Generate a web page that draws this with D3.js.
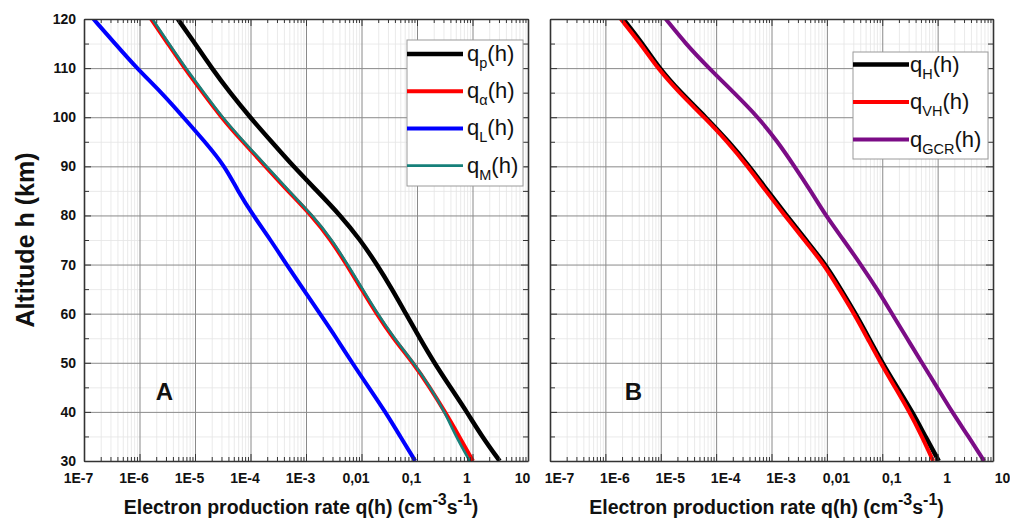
<!DOCTYPE html>
<html>
<head>
<meta charset="utf-8">
<script src="https://cdnjs.cloudflare.com/ajax/libs/d3/7.8.5/d3.min.js"></script>
<style>
  html, body { margin: 0; padding: 0; background: #fff; }
  svg { display: block; font-family: "Liberation Sans", Arial, sans-serif; }
</style>
</head>
<body>
<svg id="chart" width="1010" height="525"></svg>
<script>
// ---------------- data ----------------
const altitudes = [120, 115, 110, 105, 100, 95, 90, 85, 80, 75, 70, 65, 60, 55, 50, 45, 40, 35, 30];

// Panel A
const qP     = [4.9e-6, 1.0e-5, 2.0e-5, 4.27e-5, 9.8e-5, 2.4e-4, 5.9e-4, 1.58e-3, 4.17e-3, 9.55e-3, 1.9e-2, 3.55e-2, 6.3e-2, 0.112, 0.204, 0.40, 0.79, 1.48, 3.09];
const qAlpha = [1.62e-6, 3.24e-6, 6.46e-6, 1.38e-5, 2.95e-5, 7.24e-5, 1.86e-4, 4.68e-4, 1.26e-3, 2.82e-3, 5.37e-3, 1.0e-2, 1.86e-2, 3.72e-2, 8.5e-2, 0.17, 0.32, 0.575, 1.02];
const qL     = [1.48e-7, 3.63e-7, 8.9e-7, 2.5e-6, 6.17e-6, 1.51e-5, 3.47e-5, 5.9e-5, 1.12e-4, 2.3e-4, 4.47e-4, 8.9e-4, 1.78e-3, 3.55e-3, 6.76e-3, 1.35e-2, 2.69e-2, 5.0e-2, 9.3e-2];
const qM     = [1.70e-6, 3.39e-6, 6.76e-6, 1.45e-5, 3.09e-5, 7.59e-5, 1.95e-4, 4.9e-4, 1.32e-3, 2.95e-3, 5.62e-3, 1.05e-2, 1.95e-2, 3.89e-2, 8.7e-2, 0.174, 0.316, 0.50, 0.89];

// Panel B
const qH   = [2.1e-6, 4.7e-6, 9.3e-6, 2.3e-5, 6.5e-5, 1.7e-4, 3.98e-4, 8.5e-4, 1.86e-3, 4.17e-3, 9.5e-3, 1.78e-2, 3.3e-2, 5.75e-2, 0.10, 0.186, 0.35, 0.60, 1.05];
const qVH  = [1.9e-6, 4.3e-6, 8.7e-6, 2.15e-5, 6.1e-5, 1.6e-4, 3.7e-4, 7.9e-4, 1.74e-3, 3.9e-3, 8.9e-3, 1.66e-2, 3.1e-2, 5.4e-2, 9.3e-2, 0.17, 0.31, 0.52, 0.83];
const qGCR = [1.23e-5, 2.8e-5, 7.4e-5, 2.1e-4, 5.75e-4, 1.29e-3, 2.6e-3, 5.1e-3, 9.5e-3, 2.0e-2, 4.1e-2, 8.1e-2, 0.15, 0.28, 0.52, 0.98, 1.82, 3.6, 6.9];

// Axes
const xDecades    = [1e-7, 1e-6, 1e-5, 1e-4, 1e-3, 1e-2, 1e-1, 1, 10];
const xTickLabels = ["1E-7", "1E-6", "1E-5", "1E-4", "1E-3", "0,01", "0,1", "1", "10"];
const yTicks      = [30, 40, 50, 60, 70, 80, 90, 100, 110, 120];
const yMinorTicks = [35, 45, 55, 65, 75, 85, 95, 105, 115];

const panelLabels = ["A", "B"];
const seriesA = [
  { name: "p",     values: qP,     color: "#000000", width: 4.5 },
  { name: "α",     values: qAlpha, color: "#ff0000", width: 4 },
  { name: "L",     values: qL,     color: "#0000ff", width: 4 },
  { name: "M",     values: qM,     color: "#16807a", width: 2.6 }
];
const seriesB = [
  { name: "H",   values: qH,   color: "#000000", width: 4.5 },
  { name: "VH",  values: qVH,  color: "#ff0000", width: 4 },
  { name: "GCR", values: qGCR, color: "#7b0c86", width: 4 }
];

// ---------------- layout ----------------
const svg = d3.select("#chart");
const plotTop = 19, plotBottom = 461;
const panels = [
  { x0: 84,  x1: 528, series: seriesA, label: panelLabels[0], labelX: 164.5, showY: true,  labelDx: -6,
    legend: { x: 407, y: 40, w: 116, h: 146, step: 37.2, first: 54, lineLen: 56, textX: 467 } },
  { x0: 550, x1: 993, series: seriesB, label: panelLabels[1], labelX: 633.5, showY: false, labelDx: 9,
    legend: { x: 853, y: 52, w: 135, h: 107, step: 37.5, first: 64.5, lineLen: 56, textX: 910 } }
];

const y = d3.scaleLinear().domain([30, 120]).range([plotBottom, plotTop]);

panels.forEach(p => {
  const x = d3.scaleLog().domain([1e-7, 10]).range([p.x0, p.x1]);
  const g = svg.append("g");

  // minor x values (2..9 of each decade)
  const minorX = [];
  for (let i = 0; i < xDecades.length - 1; i++) {
    for (let k = 2; k <= 9; k++) minorX.push(xDecades[i] * k);
  }

  // minor grid
  g.append("g").call(d3.axisBottom(x).tickValues(minorX).tickSize(-(plotBottom - plotTop)).tickFormat(""))
    .attr("transform", `translate(0,${plotBottom})`)
    .call(s => s.select(".domain").remove())
    .call(s => s.selectAll("line").attr("stroke", "#e4e4e4").attr("stroke-width", 0.8));
  g.append("g").call(d3.axisLeft(y).tickValues(yMinorTicks).tickSize(-(p.x1 - p.x0)).tickFormat(""))
    .attr("transform", `translate(${p.x0},0)`)
    .call(s => s.select(".domain").remove())
    .call(s => s.selectAll("line").attr("stroke", "#e4e4e4").attr("stroke-width", 0.8));

  // major grid
  g.append("g").call(d3.axisBottom(x).tickValues(xDecades.slice(1, -1)).tickSize(-(plotBottom - plotTop)).tickFormat(""))
    .attr("transform", `translate(0,${plotBottom})`)
    .call(s => s.select(".domain").remove())
    .call(s => s.selectAll("line").attr("stroke", "#8a8a8a").attr("stroke-width", 1));
  g.append("g").call(d3.axisLeft(y).tickValues(yTicks.slice(1, -1)).tickSize(-(p.x1 - p.x0)).tickFormat(""))
    .attr("transform", `translate(${p.x0},0)`)
    .call(s => s.select(".domain").remove())
    .call(s => s.selectAll("line").attr("stroke", "#8a8a8a").attr("stroke-width", 1));

  // curves
  const line = d3.line()
    .x(d => x(d[1]))
    .y(d => y(d[0]))
    .curve(d3.curveBasis);
  const clipId = "clip" + p.x0;
  svg.append("clipPath").attr("id", clipId).append("rect")
    .attr("x", p.x0).attr("y", plotTop).attr("width", p.x1 - p.x0).attr("height", plotBottom - plotTop);
  const cg = g.append("g").attr("clip-path", `url(#${clipId})`);
  p.series.forEach(s => {
    cg.append("path")
      .datum(altitudes.map((h, i) => [h, s.values[i]]))
      .attr("d", line)
      .attr("fill", "none")
      .attr("stroke", s.color)
      .attr("stroke-width", s.width)
      .attr("stroke-linejoin", "round");
  });

  // axes ticks (inward)
  const axisColor = "#333";
  const styleAxis = s => {
    s.select(".domain").attr("stroke", axisColor).attr("stroke-width", 1.6);
    s.selectAll(".tick line").attr("stroke", axisColor).attr("stroke-width", 1);
    s.selectAll("text").attr("fill", "#111").attr("font-size", 14).attr("font-weight", "bold")
      .attr("font-family", "'Liberation Sans', Arial, sans-serif");
  };
  // bottom major with labels
  const bAx = g.append("g").attr("transform", `translate(0,${plotBottom})`)
    .call(d3.axisBottom(x).tickValues(xDecades).tickSizeInner(-7).tickSizeOuter(0).tickPadding(12)
      .tickFormat((d, i) => xTickLabels[i]))
    .call(styleAxis);
  bAx.selectAll("text").attr("dx", p.labelDx);
  // bottom minor
  g.append("g").attr("transform", `translate(0,${plotBottom})`)
    .call(d3.axisBottom(x).tickValues(minorX).tickSizeInner(-4).tickSizeOuter(0).tickFormat(""))
    .call(s => s.select(".domain").remove())
    .call(s => s.selectAll("line").attr("stroke", axisColor));
  // top major & minor
  g.append("g").attr("transform", `translate(0,${plotTop})`)
    .call(d3.axisTop(x).tickValues(xDecades).tickSizeInner(-7).tickSizeOuter(0).tickFormat(""))
    .call(styleAxis);
  g.append("g").attr("transform", `translate(0,${plotTop})`)
    .call(d3.axisTop(x).tickValues(minorX).tickSizeInner(-4).tickSizeOuter(0).tickFormat(""))
    .call(s => s.select(".domain").remove())
    .call(s => s.selectAll("line").attr("stroke", axisColor));
  // left
  g.append("g").attr("transform", `translate(${p.x0},0)`)
    .call(d3.axisLeft(y).tickValues(yTicks).tickSizeInner(-7).tickSizeOuter(0).tickPadding(8)
      .tickFormat(p.showY ? d3.format("d") : ""))
    .call(styleAxis);
  g.append("g").attr("transform", `translate(${p.x0},0)`)
    .call(d3.axisLeft(y).tickValues(yMinorTicks).tickSizeInner(-5).tickSizeOuter(0).tickFormat(""))
    .call(s => s.select(".domain").remove())
    .call(s => s.selectAll("line").attr("stroke", axisColor));
  // right
  g.append("g").attr("transform", `translate(${p.x1},0)`)
    .call(d3.axisRight(y).tickValues(yTicks).tickSizeInner(-7).tickSizeOuter(0).tickFormat(""))
    .call(styleAxis);
  g.append("g").attr("transform", `translate(${p.x1},0)`)
    .call(d3.axisRight(y).tickValues(yMinorTicks).tickSizeInner(-5).tickSizeOuter(0).tickFormat(""))
    .call(s => s.select(".domain").remove())
    .call(s => s.selectAll("line").attr("stroke", axisColor));

  // panel label
  g.append("text").attr("x", p.labelX).attr("y", 400).attr("text-anchor", "middle")
    .attr("font-size", 24).attr("font-weight", "bold").attr("fill", "#111").text(p.label);

  // legend
  const L = p.legend;
  const lg = g.append("g");
  lg.append("rect").attr("x", L.x).attr("y", L.y).attr("width", L.w).attr("height", L.h)
    .attr("fill", "#fff").attr("stroke", "#9a9a9a").attr("stroke-width", 1);
  p.series.forEach((s, i) => {
    const yy = L.first + i * L.step;
    lg.append("line").attr("x1", L.x).attr("x2", L.x + L.lineLen).attr("y1", yy).attr("y2", yy)
      .attr("stroke", s.color).attr("stroke-width", s.width);
    const t = lg.append("text").attr("x", L.textX).attr("y", yy + 7)
      .attr("font-size", 22).attr("fill", "#111");
    t.append("tspan").text("q");
    t.append("tspan").attr("font-size", 14.5).attr("dy", 7).text(s.name);
    t.append("tspan").attr("dy", -7).text("(h)");
  });

  // x title
  const cx = (p.x0 + p.x1) / 2 - 5;
  const xt = g.append("text").attr("x", cx).attr("y", 514).attr("text-anchor", "middle")
    .attr("font-size", 19.5).attr("font-weight", "bold").attr("fill", "#111");
  xt.append("tspan").text("Electron production rate q(h) (cm");
  xt.append("tspan").attr("font-size", 16).attr("dy", -9).text("-3");
  xt.append("tspan").attr("dy", 9).text("s");
  xt.append("tspan").attr("font-size", 16).attr("dy", -9).text("-1");
  xt.append("tspan").attr("dy", 9).text(")");
});

// y title
svg.append("text")
  .attr("transform", "translate(34,240) rotate(-90)")
  .attr("text-anchor", "middle")
  .attr("font-size", 25).attr("font-weight", "bold").attr("fill", "#111")
  .text("Altitude h (km)");
</script>
</body>
</html>
